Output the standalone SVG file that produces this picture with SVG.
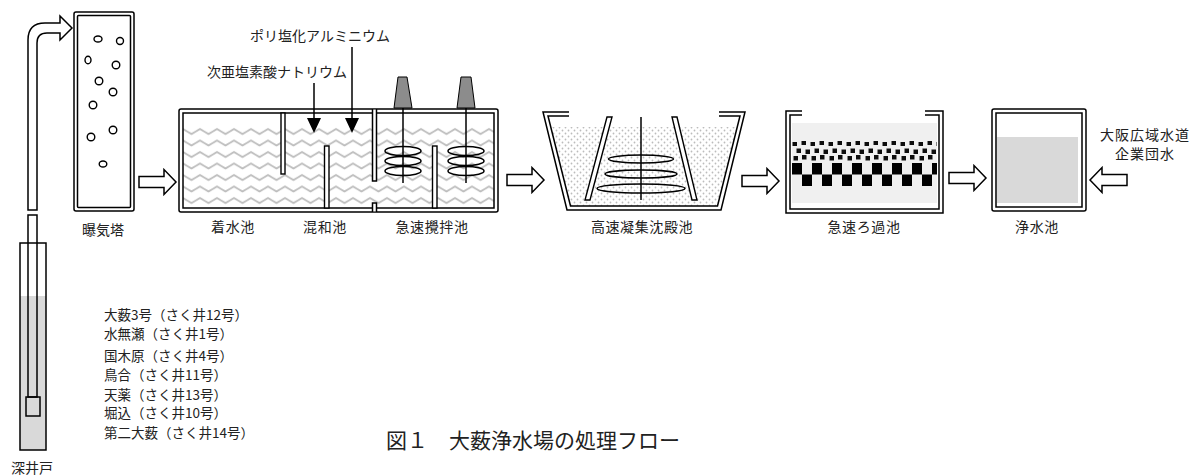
<svg xmlns="http://www.w3.org/2000/svg" width="1203" height="476" viewBox="0 0 1203 476">
  <style>
    .t { font-family: "Noto Sans CJK JP", "Noto Sans", sans-serif; font-size: 14px; fill: #222; }
    .c { text-anchor: middle; }
    .lbl { letter-spacing: 0.6px; }
    .list { font-size: 13.5px; }
    .ln { fill: none; stroke: #000; stroke-width: 1.5; }
    .wall { fill: #fff; stroke: #000; stroke-width: 1.4; }
    .flow { fill: #fff; stroke: #000; stroke-width: 1.5; stroke-linejoin: miter; }
    .paddle { fill: none; stroke: #000; stroke-width: 1.5; }
    .motor { fill: #8c8c8c; stroke: #000; stroke-width: 1; }
    .bubble { fill: #fff; stroke: #000; stroke-width: 1.4; }
  </style>
  <defs>
    <!-- wavy water surface texture -->
    <pattern id="waves" x="183" y="126" width="17" height="11.5" patternUnits="userSpaceOnUse">
      <path d="M-4.25,5.5 L0,3 L4.25,5.5 L8.5,8 L12.75,5.5 L17,3 L21.25,5.5" fill="none" stroke="#bdbdbd" stroke-width="1.8" stroke-linejoin="round"/>
    </pattern>
    <!-- fine dot texture for settling water -->
    <pattern id="dots" x="0" y="0" width="6" height="6" patternUnits="userSpaceOnUse">
      <circle cx="1.5" cy="1.5" r="0.9" fill="#bcbcbc"/>
      <circle cx="4.5" cy="4.5" r="0.9" fill="#bcbcbc"/>
    </pattern>
    <!-- coarse gravel layer -->
    <pattern id="gravel" x="792" y="141" width="18" height="21" patternUnits="userSpaceOnUse">
      <rect x="0.5" y="1" width="4.5" height="4" fill="#111"/>
      <rect x="9.5" y="0" width="4.5" height="4" fill="#111"/>
      <rect x="4.5" y="7.5" width="4.5" height="4.5" fill="#111"/>
      <rect x="13.5" y="8.5" width="4.5" height="4.5" fill="#111"/>
      <rect x="1.5" y="15" width="4.5" height="4.5" fill="#111"/>
      <rect x="10" y="14" width="4.5" height="4.5" fill="#111"/>
    </pattern>
    <!-- sand / anthracite checker layer -->
    <pattern id="checker" x="792" y="163" width="20" height="23" patternUnits="userSpaceOnUse">
      <rect x="0" y="0" width="10" height="11.5" fill="#000"/>
      <rect x="10" y="11.5" width="10" height="11.5" fill="#000"/>
    </pattern>
    <filter id="soft" x="-5%" y="-20%" width="110%" height="140%">
      <feGaussianBlur stdDeviation="0.6"/>
    </filter>
    <clipPath id="sedClip">
      <polygon points="551,127 570,206 718,206 737,127"/>
    </clipPath>
    <!-- hollow block arrow, pointing right, origin at tail centre -->
    <path id="blockArrow" d="M0,-5.5 H25 V-12.5 L37,0 L25,12.5 V5.5 H0 Z"/>
  </defs>

  <!-- deep well -->
  <g id="well">
    <rect x="20" y="296" width="26" height="154" fill="#d9d9d9"/>
    <rect x="20" y="243" width="26" height="207" class="ln"/>
    <rect x="28" y="215" width="9" height="182" class="ln"/>
    <rect x="26" y="397" width="14" height="19" class="ln"/>
    <path d="M28,210 V40 Q28,23 45,23 H60 V16 L72,28 L60,40 V33 H47 Q37,33 37,43 V210 Z" class="flow"/>
    <text x="32" y="473" class="t c">深井戸</text>
  </g>

  <g id="well-list">
    <text x="104" y="320" class="t list">大薮3号（さく井12号）</text>
    <text x="104" y="339" class="t list">水無瀬（さく井1号）</text>
    <text x="104" y="361" class="t list">国木原（さく井4号）</text>
    <text x="104" y="380" class="t list">鳥合（さく井11号）</text>
    <text x="104" y="400" class="t list">天薬（さく井13号）</text>
    <text x="104" y="418" class="t list">堀込（さく井10号）</text>
    <text x="104" y="438" class="t list">第二大薮（さく井14号）</text>
  </g>

  <!-- aeration tower -->
  <g id="aeration-tower">
    <rect x="74" y="12" width="60" height="199" rx="2" class="ln"/>
    <rect x="77.5" y="15.5" width="53" height="192" rx="1" class="ln"/>
    <ellipse cx="98" cy="39" rx="4" ry="3" class="bubble"/>
    <ellipse cx="120" cy="41" rx="3.5" ry="3.5" class="bubble"/>
    <ellipse cx="88" cy="60" rx="3" ry="3.8" class="bubble"/>
    <ellipse cx="116" cy="65" rx="3.8" ry="3.8" class="bubble"/>
    <ellipse cx="99" cy="81" rx="3.8" ry="3.8" class="bubble"/>
    <ellipse cx="113" cy="92" rx="3.8" ry="3.8" class="bubble"/>
    <ellipse cx="93" cy="105" rx="3.8" ry="3.8" class="bubble"/>
    <ellipse cx="113" cy="130" rx="3.8" ry="3.8" class="bubble"/>
    <ellipse cx="91" cy="137" rx="3.8" ry="3.8" class="bubble"/>
    <ellipse cx="103" cy="164" rx="3.8" ry="3" class="bubble"/>
    <text x="103" y="235" class="t c">曝気塔</text>
  </g>

  <!-- receiving well, mixing basin, rapid mixing basin -->
  <g id="mixing-tank">
    <rect x="183" y="126" width="311" height="82" fill="url(#waves)"/>
    <rect x="179" y="109" width="319" height="103" rx="2" class="ln"/>
    <rect x="183" y="113" width="311" height="95" class="ln"/>
    <!-- baffles -->
    <rect x="281" y="113" width="4" height="61" class="wall"/>
    <rect x="324.5" y="146" width="4.5" height="62" class="wall"/>
    <rect x="432.5" y="146" width="4.5" height="62" class="wall"/>
    <!-- dividing wall with underflow opening -->
    <rect x="372.5" y="109.7" width="4" height="71.3" fill="#fff"/>
    <path d="M372.5,109 V181 H376.5 V109" class="ln"/>
    <rect x="372.5" y="203" width="4" height="8.3" fill="#fff"/>
    <path d="M372.5,212 V203 H376.5 V212" class="ln"/>
    <!-- stirrers -->
    <polygon points="398,77 407,77 412,108 394,108" class="motor"/>
    <polygon points="461,77 471,77 475,108 457,108" class="motor"/>
    <line x1="403" y1="108" x2="403" y2="183" class="ln"/>
    <line x1="466" y1="108" x2="466" y2="183" class="ln"/>
    <ellipse cx="403" cy="151" rx="18" ry="4.5" class="paddle"/>
    <ellipse cx="403" cy="161" rx="18" ry="4.5" class="paddle"/>
    <ellipse cx="403" cy="171" rx="18" ry="4.5" class="paddle"/>
    <ellipse cx="466" cy="151" rx="18" ry="4.5" class="paddle"/>
    <ellipse cx="466" cy="161" rx="18" ry="4.5" class="paddle"/>
    <ellipse cx="466" cy="171" rx="18" ry="4.5" class="paddle"/>
    <text x="233" y="232" class="t c lbl">着水池</text>
    <text x="325" y="232" class="t c lbl">混和池</text>
    <text x="432" y="232" class="t c lbl">急速攪拌池</text>
  </g>

  <!-- chemical dosing -->
  <g id="dosing">
    <text x="320" y="41" class="t c">ポリ塩化アルミニウム</text>
    <text x="277" y="77" class="t c">次亜塩素酸ナトリウム</text>
    <line x1="314" y1="83" x2="314" y2="120" class="ln"/>
    <polygon points="307,118 321,118 314,133" fill="#000"/>
    <line x1="352" y1="47" x2="352" y2="120" class="ln"/>
    <polygon points="345,118 359,118 352,133" fill="#000"/>
  </g>

  <!-- high-rate coagulation sedimentation basin -->
  <g id="sedimentation">
    <rect x="545" y="127" width="200" height="80" fill="url(#dots)" clip-path="url(#sedClip)"/>
    <path d="M569,112 H543 L567,210 H721 L745,112 H719" class="ln"/>
    <path d="M569,116 H548 L570.5,206 H717.5 L740,116 H719" class="ln"/>
    <polygon points="607,117 612,117 590,200 585,200" class="wall"/>
    <polygon points="672,117 677,117 697,200 692,200" class="wall"/>
    <line x1="641" y1="117" x2="641" y2="200" class="ln"/>
    <ellipse cx="641" cy="159" rx="32.5" ry="4" class="paddle"/>
    <ellipse cx="641" cy="174" rx="36" ry="4" class="paddle"/>
    <ellipse cx="641" cy="188.5" rx="44" ry="4.5" class="paddle"/>
    <text x="642" y="232" class="t c lbl">高速凝集沈殿池</text>
  </g>

  <!-- rapid sand filter -->
  <g id="filter">
    <rect x="792" y="123" width="145" height="80" fill="#f0f0f0"/>
    <g filter="url(#soft)">
      <rect x="792" y="141" width="145" height="21" fill="url(#gravel)"/>
      <rect x="792" y="163" width="145" height="23" fill="url(#checker)"/>
    </g>
    <path d="M802,111 H786 V213 H943 V111 H925" class="ln"/>
    <path d="M802,115 H790 V209 H939 V115 H925" class="ln"/>
    <text x="864" y="232" class="t c lbl">急速ろ過池</text>
  </g>

  <!-- clear water reservoir -->
  <g id="clear-well">
    <rect x="997" y="137" width="81" height="66" fill="#d9d9d9"/>
    <rect x="992" y="109" width="94" height="102" rx="2" class="ln"/>
    <rect x="996" y="113" width="86" height="94" class="ln"/>
    <text x="1037" y="232" class="t c lbl">浄水池</text>
  </g>

  <g id="bulk-supply">
    <text x="1145" y="140" class="t c" letter-spacing="1">大阪広域水道</text>
    <text x="1145" y="159" class="t c" letter-spacing="1">企業団水</text>
  </g>

  <!-- flow arrows -->
  <g id="connectors" class="flow">
    <use href="#blockArrow" transform="translate(139,182)"/>
    <use href="#blockArrow" transform="translate(507,180)"/>
    <use href="#blockArrow" transform="translate(742,181)"/>
    <use href="#blockArrow" transform="translate(949,178)"/>
    <use href="#blockArrow" transform="translate(1127,180) scale(-1,1)"/>
  </g>

  <text x="386" y="448" class="t" style="font-size:21px">図１　大薮浄水場の処理フロー</text>
</svg>
